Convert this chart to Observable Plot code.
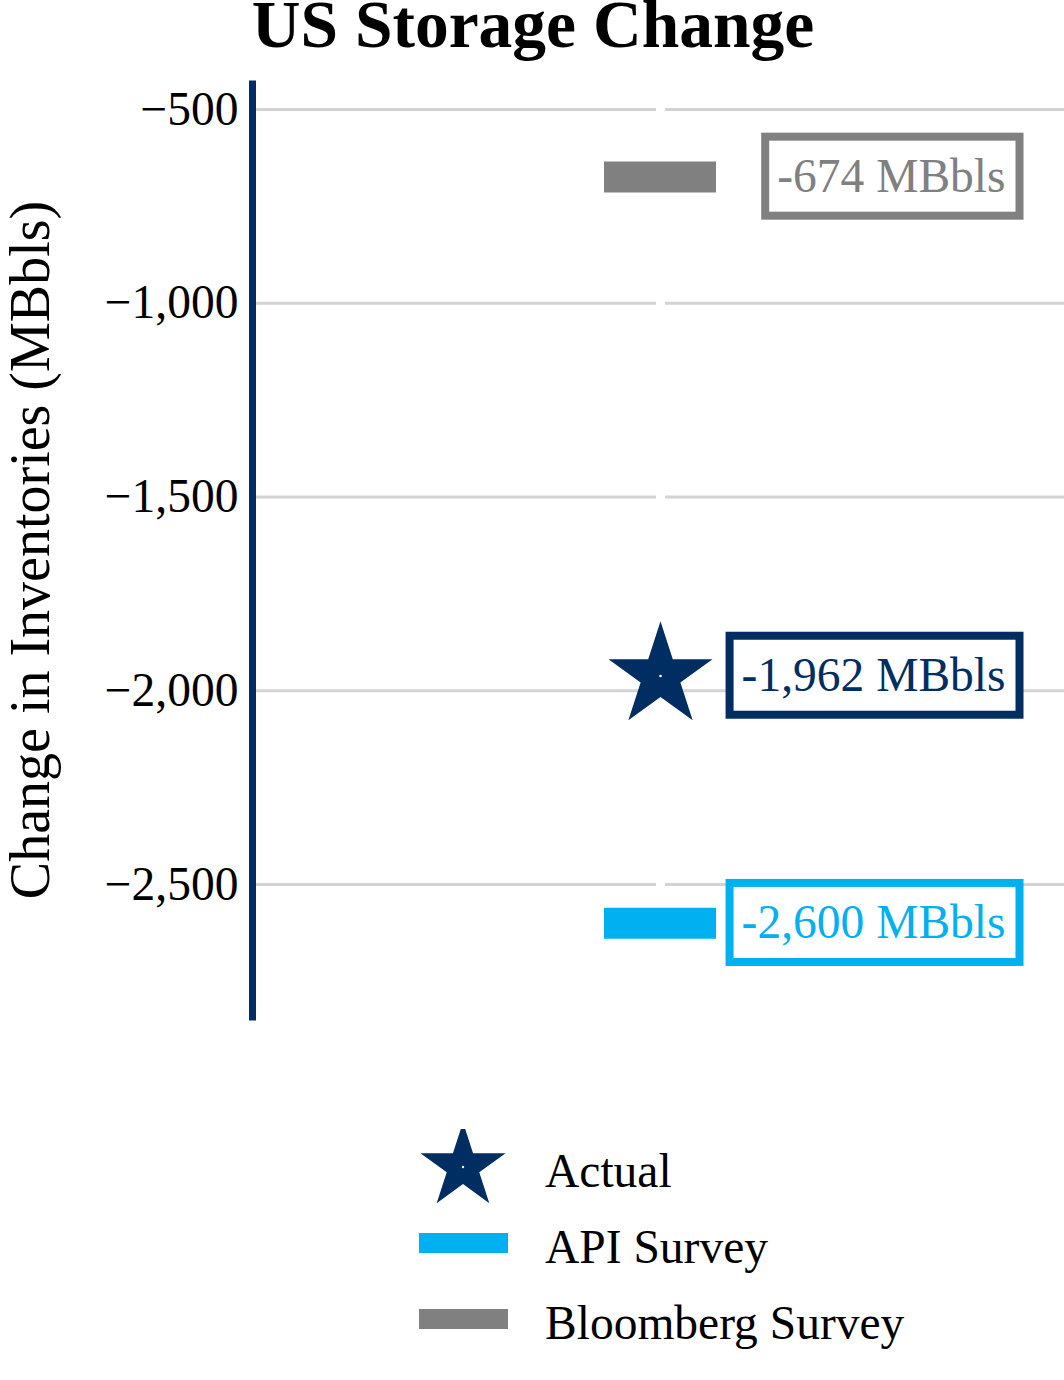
<!DOCTYPE html>
<html>
<head>
<meta charset="utf-8">
<script src="https://cdn.jsdelivr.net/npm/d3@7"></script>
<script src="https://cdn.jsdelivr.net/npm/@observablehq/plot@0.6"></script>
<style>
  body { margin: 0; background: #fff; font-family: "Liberation Serif", "Times New Roman", serif; }
  #wrap { width: 1064px; position: relative; }
  #title { height: 60px; text-align: center; font-weight: bold; font-size: 67.5px; line-height: 50px; white-space: nowrap; overflow: visible; }
  #title span { display: inline-block; height: 60px; line-height: 50px; position: relative; left: 1px; }
  #chart { height: 1040px; }
  #legend { margin-top: 29px; margin-left: 419px; }
  .row { display: flex; align-items: center; height: 76px; }
  .row svg { display: block; flex: none; }
  .row span { font-size: 47.5px; margin-left: 36px; position: relative; top: 4px; color: #000; }
</style>
</head>
<body>
<div id="wrap">
  <div id="title"><span>US Storage Change</span></div>
  <div id="chart"></div>
  <div id="legend"></div>
</div>
<script>
// ---- data ----
const category = ["US"];
const series = ["Actual", "API Survey", "Bloomberg Survey"];
const values = [-1962, -2600, -674];
const shapes = ["star", "bar", "bar"];
const colors = ["#002d62", "#00b0f0", "#808080"];
const labels = ["-1,962 MBbls", "-2,600 MBbls", "-674 MBbls"];
const yTicks = [-500, -1000, -1500, -2000, -2500];
const yDomain = [-2851, -425];
const yLabel = "Change in Inventories (MBbls)";

const navy = colors[0];
const data = series.map((s, i) => ({
  cat: category[0], series: s, value: values[i], shape: shapes[i], color: colors[i], label: labels[i]
}));
const bars = data.filter(d => d.shape === "bar");
const stars = data.filter(d => d.shape === "star");

const font = '"Liberation Serif", "Times New Roman", serif';

const plot = Plot.plot({
  width: 1064,
  height: 1040,
  marginTop: 20,
  marginBottom: 80,
  marginLeft: 252,
  marginRight: 0,
  style: { fontFamily: font, fontSize: "47.5px", color: "#000", background: "#fff", overflow: "visible" },
  x: { type: "band", domain: category, padding: 0.758, align: 0.503, axis: null },
  y: { domain: yDomain, ticks: yTicks, tickFormat: d3.format(","), tickSize: 0, tickPadding: 14, label: null },
  color: { type: "identity" },
  marks: [
    Plot.ruleY(yTicks, { stroke: "#d3d3d3", strokeWidth: 3 }),
    Plot.ruleX(category, { x: d => d, stroke: "#fff", strokeWidth: 9 }),
    Plot.frame({ anchor: "left", stroke: navy, strokeWidth: 7, strokeLinecap: "butt" }),
    Plot.tickY(bars, { x: "cat", y: "value", stroke: "color", strokeWidth: 31 }),
    Plot.dot(stars, { x: "cat", y: "value", symbol: "star", r: 32.7, fill: "color", stroke: "none" }),
    Plot.dot(stars, { x: "cat", y: "value", r: 1.3, fill: "#fff", stroke: "none" }),
    Plot.text(data, { x: "cat", y: "value", text: "label", fill: "color", textAnchor: "end", dx: 345, fontSize: 47.5 })
  ]
});

document.getElementById("chart").append(plot);

// boxes around value labels, sized from the rendered text
const svgNS = "http://www.w3.org/2000/svg";
const textGroups = Array.from(plot.querySelectorAll('g[aria-label="text"]'));
textGroups.forEach(lg => {
  Array.from(lg.querySelectorAll("text")).forEach(t => {
    const b = t.getBBox();
    const cy = b.y + b.height / 2;
    const r = document.createElementNS(svgNS, "rect");
    r.setAttribute("x", b.x - 12);
    r.setAttribute("width", b.width + 26);
    r.setAttribute("y", cy - 39.5);
    r.setAttribute("height", 79);
    const tr = t.getAttribute("transform");
    if (tr) r.setAttribute("transform", tr);
    r.setAttribute("fill", "#fff");
    r.setAttribute("stroke", t.getAttribute("fill") || lg.getAttribute("fill") || "#000");
    r.setAttribute("stroke-width", 8);
    t.parentNode.insertBefore(r, t);
  });
});

// y-axis title
const yr = plot.scale("y").range;
const cyMid = (yr[0] + yr[1]) / 2;
d3.select(plot).append("text")
  .attr("transform", `translate(49,${cyMid}) rotate(-90)`)
  .attr("text-anchor", "middle")
  .attr("font-family", font)
  .attr("font-size", 56)
  .attr("fill", "#000")
  .text(yLabel);

// legend
const legend = d3.select("#legend");
data.forEach(d => {
  const row = legend.append("div").attr("class", "row");
  const s = row.append("svg").attr("width", 90).attr("height", 76);
  if (d.shape === "star") {
    s.append("path")
      .attr("transform", "translate(44,38)")
      .attr("d", d3.symbol(d3.symbolStar, 2250)())
      .attr("fill", d.color);
    s.append("circle").attr("cx", 44).attr("cy", 38).attr("r", 1.2).attr("fill", "#fff");
  } else {
    s.append("rect").attr("x", 0).attr("y", 28).attr("width", 89).attr("height", 20).attr("fill", d.color);
  }
  row.append("span").text(d.series);
});
</script>
</body>
</html>
